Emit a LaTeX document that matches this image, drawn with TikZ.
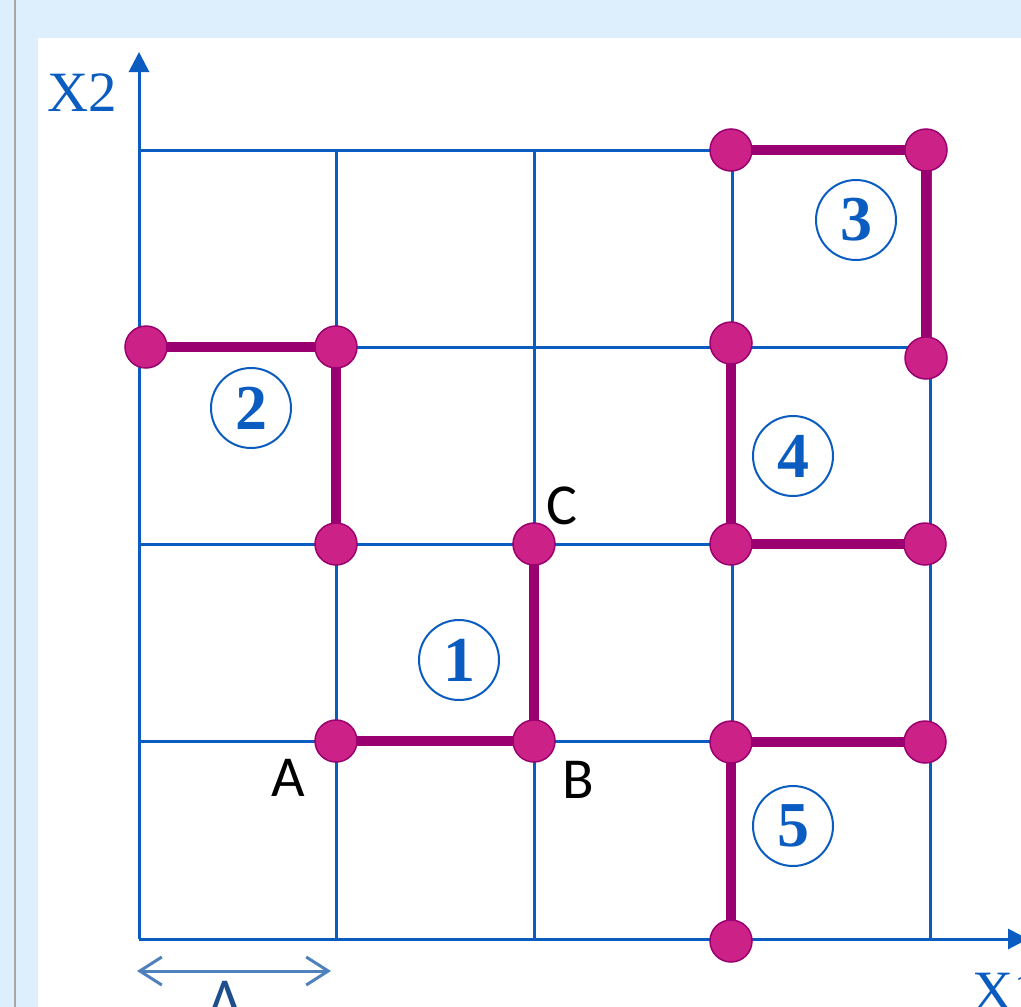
\documentclass[tikz,border=0pt]{standalone}
\usepackage{fontspec}
\setmainfont{Liberation Serif}
\newfontfamily\lblfont{Carlito}
\usetikzlibrary{arrows.meta}
\definecolor{bgblue}{HTML}{DDEEFC}
\definecolor{gridblue}{HTML}{0A5CC0}
\definecolor{pathpurple}{HTML}{9A0070}
\definecolor{dotfill}{HTML}{CC2288}
\definecolor{steel}{HTML}{4F81BD}
\definecolor{lambdablue}{HTML}{1F4E8C}
\tikzset{
  gridline/.style={draw=gridblue, line width=3pt},
  axisline/.style={draw=gridblue, line width=3pt, -{Triangle[length=20pt,width=20pt]}},
  route/.style={draw=pathpurple, line width=10pt},
  dotnode/.style={circle, minimum size=42pt, inner sep=0pt, fill=dotfill, draw=pathpurple, line width=1.5pt},
  numcirc/.style={circle, draw=gridblue, line width=2pt, minimum size=80pt, inner sep=0pt, text=gridblue, font=\fontsize{64}{70}\selectfont\bfseries},
  ptlabel/.style={inner sep=0pt, font=\lblfont\fontsize{58}{66}\selectfont, text=black},
  axlabel/.style={inner sep=0pt, font=\fontsize{57}{66}\selectfont, text=gridblue},
}
\begin{document}
\begin{tikzpicture}[x=1pt,y=-1pt]
\useasboundingbox (0,0) rectangle (1021,1007);
\clip (0,0) rectangle (1021,1007);
% background
\fill[bgblue] (0,0) rectangle (1021,1007);
\draw[draw=gray!70, line width=1.5pt] (15,0) -- (15,1007);
\fill[white] (38,38) rectangle (1021,1007);
% grid
\foreach \y in {150,347,544,741} \draw[gridline] (139,\y) -- (930,\y);
\foreach \x in {336,534,732,930} \draw[gridline] (\x,150) -- (\x,939);
% axes
\coordinate (orig) at (139,939);
\coordinate (ytip) at (139,52);
\coordinate (xtip) at (1028,939);
\draw[axisline] (orig) -- (ytip);
\draw[axisline] (orig) -- (xtip);
\node[axlabel, anchor=base west] (x2) at (47,111) {X2};
\node[axlabel, anchor=base west] (x1) at (972,1010) {X1};
% lambda dimension
\coordinate (la) at (137,971);
\coordinate (lb) at (331,971);
\draw[steel, line width=3pt, {Straight Barb[length=22pt,width=28pt]}-{Straight Barb[length=22pt,width=28pt]}] (la) -- (lb);
\node[inner sep=0pt, anchor=base, font=\lblfont\fontsize{58}{66}\selectfont, text=lambdablue] (lam) at (225,1018) {Λ};
% dots coordinates
\coordinate (pA) at (336,741);
\coordinate (pB) at (534,741);
\coordinate (pC) at (534,544);
\coordinate (p2a) at (146,347);
\coordinate (p2b) at (336,347);
\coordinate (p2c) at (336,544);
\coordinate (p3a) at (731,150);
\coordinate (p3b) at (926,150);
\coordinate (p3c) at (926,358);
\coordinate (p4a) at (731,343);
\coordinate (p4b) at (731,544);
\coordinate (p4c) at (925,544);
\coordinate (p5a) at (925,742);
\coordinate (p5b) at (731,742);
\coordinate (p5c) at (731,941);
% routes
\draw[route] (pA) -- (pB) -- (pC);
\draw[route] (p2a) -- (p2b) -- (p2c);
\draw[route] (p3a) -- (p3b) -- (p3c);
\draw[route] (p4a) -- (p4b) -- (p4c);
\draw[route] (p5a) -- (p5b) -- (p5c);
% dots
\foreach \p in {pA,pB,pC,p2a,p2b,p2c,p3a,p3b,p3c,p4a,p4b,p4c,p5a,p5b,p5c}
  \node[dotnode] (d\p) at (\p) {};
% point labels
\node[ptlabel] (lA) at (288,778) {A};
\node[ptlabel] (lB) at (578,780) {B};
\node[ptlabel] (lC) at (562,506) {C};
% circled numbers
\node[numcirc] (n1) at (459,660) {1};
\node[numcirc] (n2) at (251,408) {2};
\node[numcirc] (n3) at (856,220) {3};
\node[numcirc] (n4) at (793,456) {4};
\node[numcirc] (n5) at (793,826) {5};
\end{tikzpicture}
\end{document}
